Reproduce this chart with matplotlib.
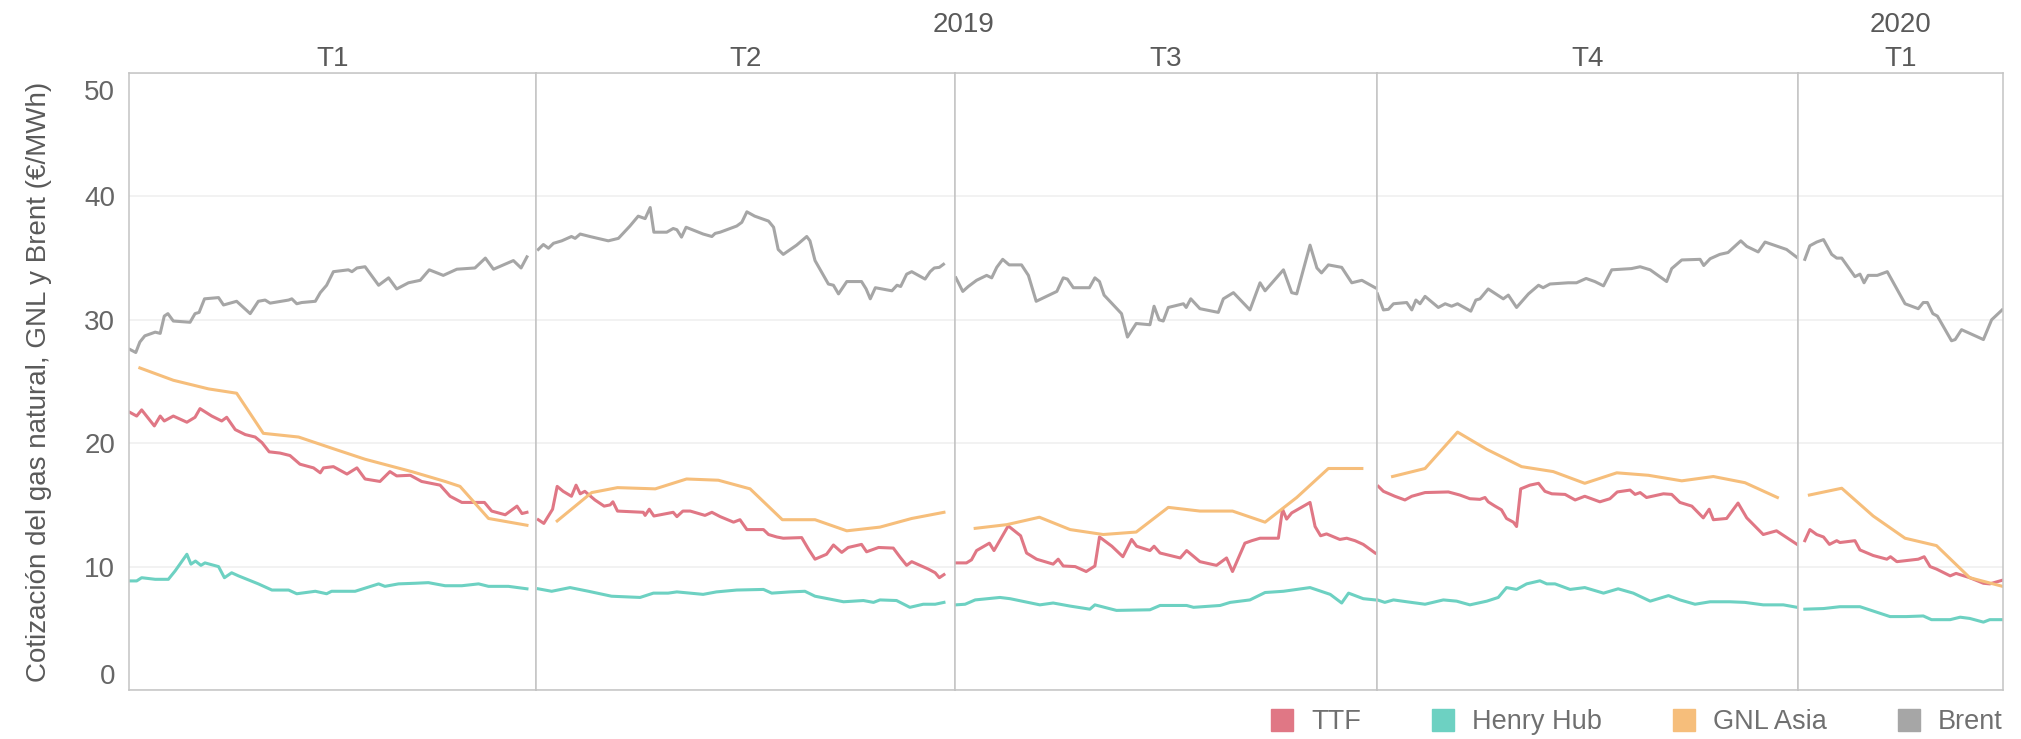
import matplotlib.pyplot as plt
import numpy as np
import pandas as pd
from matplotlib.lines import Line2D
from matplotlib.transforms import ScaledTranslation

plt.rcParams['font.family'] = ['Liberation Sans', 'DejaVu Sans']

# (días desde el 1 de enero de 2019, €/MWh)
ttf = [(0.2, 22.5), (1.7, 22.2), (2.8, 22.7), (5.6, 21.4), (6.9, 22.2), (7.8, 21.8), (9.8, 22.2),
       (12.8, 21.7), (14.6, 22.1), (15.7, 22.8), (18.3, 22.2), (20.5, 21.8), (21.6, 22.1), (23.5, 21.1),
       (25.7, 20.7), (27.9, 20.5), (29.4, 20.05), (31, 19.3), (33.4, 19.2), (35.6, 19.0), (37.8, 18.3),
       (40.8, 18.0), (42.3, 17.6), (43, 18.0), (45.2, 18.1), (48.2, 17.5), (50.4, 18.0), (52.2, 17.1),
       (55.5, 16.9), (57.7, 17.7), (59.2, 17.35), (62.2, 17.4), (64.7, 16.9), (68.8, 16.6), (71, 15.7),
       (73.6, 15.2), (76.5, 15.2), (78.6, 15.2), (80.2, 14.5), (83.2, 14.2), (85.8, 14.9), (86.9, 14.3),
       (88, 14.4),
       (90.5, 13.8), (91.7, 13.5), (93.6, 14.65), (94.6, 16.5), (95.9, 16.1), (97.7, 15.7), (98.7, 16.6),
       (99.6, 15.9), (100.6, 16.1), (102.8, 15.4), (104.8, 14.9), (106.1, 15.0), (106.7, 15.25),
       (107.7, 14.5), (113.3, 14.4), (113.7, 14.15), (114.6, 14.65), (115.6, 14.1), (119.8, 14.4),
       (120.6, 14.05), (121.9, 14.5), (123.5, 14.5), (126.7, 14.15), (128.2, 14.4), (130, 14.05),
       (132.9, 13.6), (134.3, 13.8), (135.8, 13.0), (139.4, 13.0), (140.5, 12.6), (142.3, 12.4),
       (143.7, 12.3), (147.7, 12.35), (149.2, 11.4), (150.6, 10.6), (153.1, 11.0), (154.6, 11.75),
       (156.4, 11.15), (157.8, 11.55), (160.7, 11.8), (161.8, 11.2), (164.4, 11.55), (167.6, 11.5),
       (169.1, 10.75), (170.5, 10.1), (171.6, 10.4), (175.2, 9.8), (176.7, 9.5), (177.6, 9.1), (178.6, 9.35),
       (181.2, 10.3), (183.5, 10.3), (184.6, 10.55), (185.7, 11.3), (188.5, 11.9), (189.5, 11.3),
       (192.6, 13.3), (195.3, 12.5), (196.6, 11.1), (198.8, 10.6), (202.4, 10.2), (203.5, 10.6),
       (204.6, 10.05), (207.2, 10.0), (209.6, 9.6), (211.5, 10.05), (212.5, 12.4), (215.2, 11.65),
       (217.6, 10.8), (219.5, 12.2), (220.6, 11.65), (223.5, 11.3), (224.4, 11.65), (225.7, 11.1),
       (230.1, 10.7), (231.5, 11.3), (234.4, 10.4), (238, 10.1), (240.2, 10.7), (241.5, 9.6), (244.2, 11.9),
       (245.7, 12.1), (247.5, 12.3), (251.5, 12.3), (252.4, 14.65), (253.3, 13.85), (254.4, 14.35),
       (258.4, 15.2), (259.5, 13.25), (260.7, 12.5), (262, 12.65), (264.9, 12.2), (266.4, 12.3),
       (268.2, 12.1), (270, 11.8), (272.6, 11.1),
       (273.3, 16.5), (274.4, 16.1), (276.9, 15.7), (279.1, 15.4), (280.6, 15.7), (283.5, 16.0),
       (288.6, 16.05), (291.1, 15.8), (293.3, 15.5), (295.5, 15.45), (296.6, 15.6), (297.3, 15.25),
       (298.8, 14.9), (300.2, 14.6), (301.3, 13.9), (302.8, 13.6), (303.5, 13.25), (304.4, 16.3),
       (306.4, 16.6), (308.3, 16.75), (309.7, 16.1), (311.2, 15.9), (314.1, 15.85), (316.3, 15.4),
       (318.4, 15.7), (321.7, 15.25), (323.9, 15.5), (325.5, 16.05), (328.3, 16.2), (329.4, 15.85),
       (330.5, 16.0), (331.9, 15.6), (335.6, 15.9), (337.4, 15.85), (339.2, 15.2), (341.8, 14.9),
       (344.3, 13.95), (345.6, 14.65), (346.5, 13.8), (349.4, 13.9), (351.9, 15.15), (353.8, 13.95),
       (357.4, 12.6), (360.3, 12.9), (364.8, 11.8),
       (366.5, 12.1), (367.6, 13.0), (369.1, 12.6), (370.6, 12.4), (371.9, 11.8), (373.5, 12.1),
       (374.2, 11.95), (377.5, 12.1), (378.6, 11.35), (381.5, 10.9), (384.5, 10.6), (385.3, 10.8),
       (386.7, 10.4), (391.4, 10.6), (392.7, 10.8), (394, 10.0), (395.4, 9.8), (398.4, 9.25),
       (399.7, 9.45), (402.7, 9.1), (405.7, 8.65), (407.1, 8.6), (409.9, 8.9)]

henry_hub = [(0.2, 8.84), (1.7, 8.84), (2.8, 9.1), (5.8, 8.97), (8.7, 8.97), (10.2, 9.65), (12.8, 11.0),
             (13.7, 10.2), (14.7, 10.45), (15.9, 10.1), (16.8, 10.3), (19.8, 10.0), (21.1, 9.1),
             (22.7, 9.5), (24.2, 9.25), (28.6, 8.6), (31.6, 8.1), (35.3, 8.1), (37.1, 7.8), (41.2, 8.0),
             (43.7, 7.8), (44.8, 8.0), (50, 8.0), (55.2, 8.6), (56.6, 8.4), (59.6, 8.6), (63.3, 8.65),
             (66.2, 8.7), (69.9, 8.45), (73.6, 8.45), (77.3, 8.6), (79.5, 8.4), (83.9, 8.4), (88, 8.2),
             (90.5, 8.2), (93.4, 8.0), (97.4, 8.3), (101.4, 8.0), (106.4, 7.6), (112.6, 7.5), (115.5, 7.85),
             (118.7, 7.85), (120.6, 7.95), (126.3, 7.75), (129.2, 7.95), (133.6, 8.1), (139.4, 8.15),
             (141.2, 7.85), (145.2, 7.95), (148.4, 8.0), (150.6, 7.6), (156.8, 7.15), (161.1, 7.25),
             (163.3, 7.1), (164.7, 7.3), (168.3, 7.25), (171.2, 6.7), (174.1, 6.95), (176.7, 6.95),
             (178.6, 7.1),
             (181.2, 6.9), (183.2, 6.95), (185.4, 7.3), (190.8, 7.5), (193, 7.4), (199.5, 6.9),
             (202.4, 7.05), (206.1, 6.8), (210.4, 6.55), (211.5, 6.9), (216.2, 6.45), (223.5, 6.5),
             (225.7, 6.85), (231.5, 6.85), (233, 6.7), (238.8, 6.85), (241, 7.1), (245.3, 7.3),
             (248.6, 7.9), (252.6, 8.0), (258.4, 8.3), (262.8, 7.75), (265.3, 7.05), (266.8, 7.85),
             (270, 7.4), (272.6, 7.3),
             (273.1, 7.3), (274.7, 7.1), (276.6, 7.3), (279.5, 7.15), (283.5, 6.95), (287.5, 7.3),
             (290.4, 7.2), (293.3, 6.9), (297, 7.2), (299.5, 7.5), (301.3, 8.3), (303.5, 8.15),
             (305.7, 8.6), (308.6, 8.85), (310.1, 8.6), (311.9, 8.6), (315.2, 8.15), (318.4, 8.3),
             (322.5, 7.85), (325.7, 8.2), (329, 7.85), (332.7, 7.2), (336.7, 7.65), (339.2, 7.3),
             (342.5, 6.95), (345.8, 7.15), (350.1, 7.15), (353.4, 7.1), (357.4, 6.9), (361.8, 6.9),
             (364.8, 6.7),
             (366.5, 6.55), (370.6, 6.6), (374.2, 6.75), (378.6, 6.75), (381.5, 6.4), (385.2, 5.95),
             (388.8, 5.95), (392.5, 6.0), (394.3, 5.7), (398.4, 5.7), (400.6, 5.9), (402.7, 5.8),
             (405.7, 5.5), (407.1, 5.7), (409.9, 5.7)]

gnl_asia = [(2.4, 26.1), (9.8, 25.1), (17.6, 24.4), (23.8, 24.05), (29.7, 20.8), (37.5, 20.5), (44.8, 19.6),
            (52.2, 18.7), (62.5, 17.7), (69.9, 16.9), (73.2, 16.5), (79.5, 13.9), (88, 13.35),
            (94.6, 13.7), (102.1, 16.0), (107.7, 16.4), (115.9, 16.3), (122.7, 17.1), (129.6, 17.0),
            (136.5, 16.3), (143.5, 13.8), (150.6, 13.8), (157.5, 12.9), (164.7, 13.2), (171.6, 13.9),
            (178.6, 14.4),
            (185.4, 13.1), (192.3, 13.4), (199.4, 14.0), (206.1, 13.0), (213.3, 12.6), (220.5, 12.8),
            (227.5, 14.8), (234.4, 14.5), (241.5, 14.5), (248.6, 13.6), (255.5, 15.6), (262.4, 17.95),
            (269.7, 17.95),
            (276.4, 17.3), (283.5, 17.95), (290.6, 20.9), (297, 19.5), (304.6, 18.1), (311.5, 17.7),
            (318.4, 16.75), (325.4, 17.6), (332.3, 17.4), (339.6, 16.95), (346.5, 17.3), (353.4, 16.8),
            (360.5, 15.6),
            (367.5, 15.8), (374.6, 16.35), (381.5, 14.1), (388.5, 12.3), (395.4, 11.7), (402.7, 9.1),
            (409.9, 8.4)]

brent = [(0.2, 27.6), (1.5, 27.35), (2.4, 28.2), (3.5, 28.7), (5.8, 29.0), (6.9, 28.9), (7.8, 30.3),
         (8.6, 30.5), (9.8, 29.9), (13.5, 29.8), (14.6, 30.5), (15.5, 30.6), (16.7, 31.7), (19.8, 31.8),
         (20.9, 31.2), (23.8, 31.5), (26.8, 30.5), (28.6, 31.5), (30.1, 31.6), (31.2, 31.35), (35.3, 31.6),
         (36, 31.7), (37.1, 31.3), (38.2, 31.4), (41.2, 31.5), (42.3, 32.2), (43.7, 32.8), (45.2, 33.9),
         (48.5, 34.05), (49.3, 33.9), (50.4, 34.2), (52.2, 34.3), (55.2, 32.8), (57.4, 33.4), (59.2, 32.5),
         (61.8, 33.0), (64.4, 33.2), (66.4, 34.05), (69.5, 33.6), (72.5, 34.1), (76.5, 34.2), (78.8, 35.0),
         (80.6, 34.1), (85, 34.8), (86.7, 34.2), (88, 35.1),
         (90.5, 35.7), (91.6, 36.1), (92.7, 35.8), (93.8, 36.2), (95.6, 36.4), (97.7, 36.75), (98.5, 36.6),
         (99.6, 36.95), (101.7, 36.75), (105.7, 36.4), (107.9, 36.6), (110.4, 37.6), (112.2, 38.4),
         (113.7, 38.2), (114.8, 39.1), (115.6, 37.1), (118.4, 37.1), (119.8, 37.4), (120.6, 37.3),
         (121.6, 36.7), (122.6, 37.5), (126.3, 36.95), (128.2, 36.75), (128.9, 37.0), (130, 37.1),
         (133.6, 37.6), (134.7, 37.9), (135.8, 38.75), (137.5, 38.4), (140.5, 38.0), (141.6, 37.5),
         (142.6, 35.7), (143.7, 35.3), (146.6, 36.05), (148.8, 36.75), (149.5, 36.4), (150.6, 34.8),
         (153.5, 32.9), (154.6, 32.8), (155.7, 32.1), (157.5, 33.1), (160.7, 33.1), (161.7, 32.5),
         (162.6, 31.7), (163.7, 32.6), (167.3, 32.35), (168.4, 32.8), (169.2, 32.7), (170.5, 33.7),
         (171.6, 33.9), (174.5, 33.3), (175.6, 33.9), (176.5, 34.2), (177.6, 34.25), (178.5, 34.5),
         (181.2, 33.4), (182.7, 32.3), (183.9, 32.7), (185.7, 33.2), (187.9, 33.6), (189, 33.4),
         (190.1, 34.25), (191.4, 34.9), (192.8, 34.45), (195.5, 34.45), (197, 33.6), (198.7, 31.5),
         (203.2, 32.3), (204.6, 33.4), (205.5, 33.3), (206.8, 32.6), (210.3, 32.6), (211.5, 33.4),
         (212.5, 33.1), (213.5, 32.0), (217.3, 30.5), (218.6, 28.6), (220.5, 29.7), (223.5, 29.6),
         (224.4, 31.1), (225.5, 30.0), (226.4, 29.9), (227.5, 31.0), (230.8, 31.3), (231.4, 31.0),
         (232.4, 31.7), (234.4, 30.9), (238.4, 30.6), (239.5, 31.7), (241.7, 32.2), (245.3, 30.8),
         (247.5, 33.0), (248.6, 32.35), (252.6, 34.05), (254.4, 32.2), (255.5, 32.1), (258.4, 36.05),
         (259.9, 34.2), (260.9, 33.8), (262.4, 34.45), (265.3, 34.25), (267.5, 33.0), (269.7, 33.2),
         (272.6, 32.6),
         (273.1, 32.1), (274.4, 30.8), (275.5, 30.85), (276.6, 31.3), (279.5, 31.4), (280.6, 30.8),
         (281.5, 31.6), (282.4, 31.3), (283.5, 31.9), (286.4, 31.0), (287.9, 31.3), (289.3, 31.1),
         (290.6, 31.3), (293.5, 30.7), (294.6, 31.6), (295.5, 31.7), (297.3, 32.5), (300.6, 31.7),
         (301.7, 32.0), (303.5, 31.0), (306.1, 32.1), (308.3, 32.8), (309.3, 32.6), (310.8, 32.9),
         (314.8, 33.0), (316.6, 33.0), (318.7, 33.35), (320.6, 33.1), (322.5, 32.75), (324.3, 34.05),
         (328.6, 34.15), (330.5, 34.3), (332.7, 34.05), (336.3, 33.1), (337.4, 34.15), (339.6, 34.85),
         (343.6, 34.9), (344.4, 34.4), (345.8, 34.95), (347.9, 35.3), (349.7, 35.45), (352.5, 36.4),
         (353.8, 35.95), (356.3, 35.5), (357.8, 36.3), (362.5, 35.7), (364.8, 35.05),
         (366.5, 34.9), (367.6, 36.0), (369.1, 36.3), (370.6, 36.5), (372.4, 35.3), (373.5, 35.0),
         (374.6, 35.0), (377.5, 33.5), (378.6, 33.7), (379.5, 33.0), (380.4, 33.6), (382.4, 33.6),
         (384.6, 33.9), (386.7, 32.5), (388.5, 31.3), (391.4, 30.9), (392.5, 31.4), (393.4, 31.4),
         (394.6, 30.5), (395.6, 30.3), (398.7, 28.3), (399.5, 28.4), (400.9, 29.2), (405.7, 28.4),
         (407.5, 30.0), (409.8, 30.8)]

series = ['TTF', 'Henry Hub', 'GNL Asia', 'Brent']
colores = ['#e07785', '#6dd1c2', '#f6be7b', '#a6a6a6']
trimestres = ['T1', 'T2', 'T3', 'T4', 'T1']
# límites de cada panel en días desde el 1 de enero de 2019
cortes = [0, 90, 181, 273, 365, 410]

inicio = pd.Timestamp('2019-01-01')
gris_texto = '#5a5a5a'

fig = plt.figure(figsize=(20.21, 7.39), dpi=100)
gs = fig.add_gridspec(1, 5, width_ratios=[407, 419, 422, 421, 205], wspace=0,
                      left=129 / 2021, right=2003 / 2021, top=1 - 73 / 739, bottom=1 - 690 / 739)
axes = [fig.add_subplot(gs[0, i]) for i in range(5)]

datos = [ttf, henry_hub, gnl_asia, brent]
for i, ax in enumerate(axes):
    a, b = cortes[i], cortes[i + 1]
    for serie, color in zip(datos, colores):
        dias = np.array([p[0] for p in serie])
        vals = np.array([p[1] for p in serie])
        m = (dias >= a) & (dias < b)
        fechas = inicio + pd.to_timedelta(dias[m], unit='D')
        ax.plot(fechas, vals[m], color=color, lw=2.2, solid_joinstyle='round')
    ax.set_xlim(inicio + pd.Timedelta(days=a), inicio + pd.Timedelta(days=b))
    ax.set_ylim(0, 50)
    ax.set_yticks(range(0, 51, 10))
    ax.set_xticks([])
    ax.grid(axis='y', color='#efefef', lw=1.1)
    ax.set_axisbelow(True)
    for s in ax.spines.values():
        s.set_color('#c4c4c4')
        s.set_linewidth(1.1)
    ax.tick_params(axis='y', length=0, pad=10, labelsize=20, labelcolor='#666666')
    if i > 0:
        ax.tick_params(axis='y', labelleft=False)
    ax.set_title(trimestres[i], fontsize=20, color=gris_texto, pad=5)

# etiquetas 0 y 50 dentro del área, como en el original
etiquetas = axes[0].get_yticklabels()
etiquetas[0].set_va('bottom')
etiquetas[-1].set_va('top')
etiquetas[-1].set_transform(etiquetas[-1].get_transform()
                            + ScaledTranslation(0, -0.07, fig.dpi_scale_trans))

p0 = axes[0].get_position()
p3 = axes[3].get_position()
p4 = axes[4].get_position()
y_anio = 1 - 32 / 739
fig.text((p0.x0 + p3.x1) / 2, y_anio, '2019', ha='center', va='baseline', fontsize=20, color=gris_texto)
fig.text((p4.x0 + p4.x1) / 2, y_anio, '2020', ha='center', va='baseline', fontsize=20, color=gris_texto)

fig.text(39 / 2021, (p0.y0 + p0.y1) / 2, 'Cotización del gas natural, GNL y Brent (€/MWh)',
         rotation=90, ha='center', va='center', fontsize=20, color=gris_texto)

handles = [Line2D([], [], ls='', marker='s', markersize=16.5, markerfacecolor=c, markeredgecolor=c)
           for c in colores]
fig.legend(handles, series, loc='center right', bbox_to_anchor=(2003 / 2021, 1 - 722 / 739),
           ncol=4, frameon=False, fontsize=19.5, labelcolor='#707070', borderpad=0, borderaxespad=0,
           handlelength=0.85, handletextpad=0.65, columnspacing=2.6)

fig.savefig('out.png', dpi=100)
